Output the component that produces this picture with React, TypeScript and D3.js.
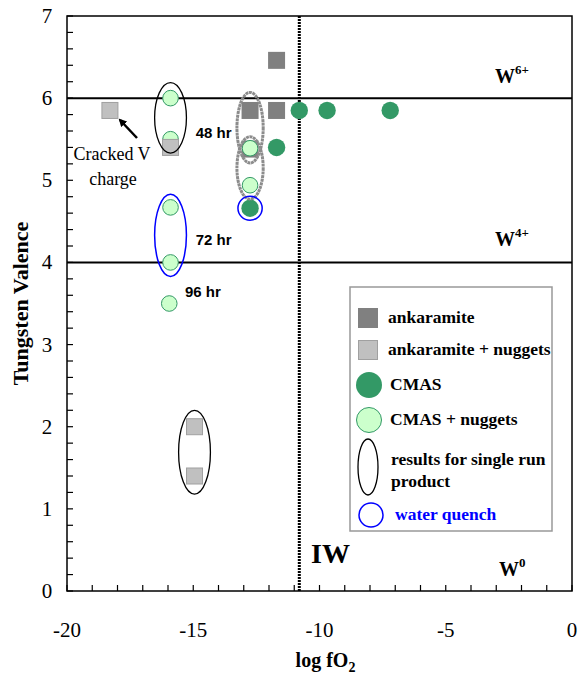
import React from 'react';
import * as d3 from 'd3';

// log fO2 vs tungsten valence
const ankaramite = [
  { x: -12.75, y: 5.85 },
  { x: -11.7, y: 5.85 },
  { x: -11.7, y: 6.46 },
  { x: -12.75, y: 5.38 },
];
const ankaramiteNuggets = [
  { x: -18.3, y: 5.85 },
  { x: -15.9, y: 5.4 },
  { x: -14.95, y: 2.0 },
  { x: -14.95, y: 1.4 },
];
const cmas = [
  { x: -10.8, y: 5.85 },
  { x: -9.7, y: 5.85 },
  { x: -7.2, y: 5.85 },
  { x: -11.7, y: 5.4 },
  { x: -12.75, y: 4.66 },
];
const cmasNuggets = [
  { x: -15.9, y: 6.0 },
  { x: -15.9, y: 5.5 },
  { x: -15.9, y: 4.67 },
  { x: -15.9, y: 4.0 },
  { x: -15.95, y: 3.5 },
  { x: -12.75, y: 5.39 },
  { x: -12.75, y: 4.94 },
];
// outlines: centre and half sizes in data units
const singleRun = [
  { cx: -15.9, cy: 5.76, rx: 0.63, ry: 0.43 },
  { cx: -14.95, cy: 1.69, rx: 0.63, ry: 0.51 },
];
const grayRuns = [
  { cx: -12.75, cy: 5.64, rx: 0.52, ry: 0.43 },
  { cx: -12.75, cy: 5.15, rx: 0.52, ry: 0.38 },
];
const quench = [
  { cx: -15.9, cy: 4.33, rx: 0.63, ry: 0.5 },
  { cx: -12.75, cy: 4.66, rx: 0.48, ry: 0.146 },
];
const durations = [
  { label: '48 hr', x: -14.9, y: 5.52 },
  { label: '72 hr', x: -14.9, y: 4.21 },
  { label: '96 hr', x: -15.33, y: 3.58 },
];
const levels = [6, 4];
const iw = -10.8;
const xTicks = [-20, -15, -10, -5, 0];
const yTicks = [0, 1, 2, 3, 4, 5, 6, 7];

const W = 578;
const H = 684;
const m = { left: 67, right: 6, top: 16, bottom: 93 };

const serif = '"Liberation Serif", "Times New Roman", serif';

export default function App() {
  const x = d3.scaleLinear().domain([-20, 0]).range([m.left, W - m.right]);
  const y = d3.scaleLinear().domain([0, 7]).range([H - m.bottom, m.top]);
  const x0 = x.range()[0], x1 = x.range()[1];
  const y0 = y.range()[0], y1 = y.range()[1];
  const minorX = d3.range(-20, 1, 1);
  const minorY = d3.range(0, 7.01, 0.2);
  const sq = 17;

  const legendItems = [
    { kind: 'dark', label: 'ankaramite', y: 318 },
    { kind: 'light', label: 'ankaramite + nuggets', y: 350 },
    { kind: 'cmas', label: 'CMAS', y: 385 },
    { kind: 'cmasn', label: 'CMAS + nuggets', y: 420 },
  ];

  return (
    <svg width={W} height={H} style={{ position: 'absolute', left: 0, top: 0, background: '#fff' }}>
      {/* frame */}
      <rect x={x0} y={y1} width={x1 - x0} height={y0 - y1} fill="none" stroke="#000" strokeWidth={1.5} />
      {minorX.map((t) => (
        <line key={'xt' + t} x1={x(t)} x2={x(t)} y1={y0} y2={y0 - 6} stroke="#000" strokeWidth={1.2} />
      ))}
      {minorY.map((t) => (
        <line key={'yt' + t} x1={x0} x2={x0 + 6} y1={y(t)} y2={y(t)} stroke="#000" strokeWidth={1.2} />
      ))}
      {xTicks.map((t) => (
        <text key={'xl' + t} x={x(t)} y={y0 + 46} textAnchor="middle" fontFamily={serif} fontSize={21}>
          {t}
        </text>
      ))}
      {yTicks.map((t) => (
        <text key={'yl' + t} x={x0 - 20} y={y(t) + 7} textAnchor="middle" fontFamily={serif} fontSize={21}>
          {t}
        </text>
      ))}
      <text x={(x0 + x1) / 2 + 6} y={667} textAnchor="middle" fontFamily={serif} fontSize={20} fontWeight="bold">
        log fO<tspan fontSize={14} dy={5}>2</tspan>
      </text>
      <text
        transform={`translate(28,${(y0 + y1) / 2}) rotate(-90)`}
        textAnchor="middle"
        fontFamily={serif}
        fontSize={22}
        fontWeight="bold"
      >
        Tungsten Valence
      </text>

      {/* valence levels and IW buffer */}
      {levels.map((l) => (
        <line key={'lv' + l} x1={x0} x2={x1} y1={y(l)} y2={y(l)} stroke="#000" strokeWidth={2} />
      ))}
      <line x1={x(iw)} x2={x(iw)} y1={y1} y2={y0} stroke="#000" strokeWidth={3} strokeDasharray="2,1" />

      {/* markers */}
      {ankaramite.map((d, i) => (
        <rect key={'a' + i} x={x(d.x) - sq / 2} y={y(d.y) - sq / 2} width={sq} height={sq} fill="#808080" />
      ))}
      {cmas.map((d, i) => (
        <circle key={'c' + i} cx={x(d.x)} cy={y(d.y)} r={8.7} fill="#339966" />
      ))}
      {cmasNuggets.map((d, i) => (
        <circle key={'cn' + i} cx={x(d.x)} cy={y(d.y)} r={7.8} fill="#ccffcc" stroke="#339966" strokeWidth={1} />
      ))}
      {ankaramiteNuggets.map((d, i) => (
        <rect
          key={'an' + i}
          x={x(d.x) - sq / 2 + 0.5}
          y={y(d.y) - sq / 2 + 0.5}
          width={sq - 1}
          height={sq - 1}
          fill="#c0c0c0"
          stroke="#a0a0a0"
          strokeWidth={1}
        />
      ))}

      {/* run outlines */}
      {grayRuns.map((e, i) => (
        <ellipse
          key={'g' + i}
          cx={x(e.cx)}
          cy={y(e.cy)}
          rx={x(e.cx + e.rx) - x(e.cx)}
          ry={y(e.cy - e.ry) - y(e.cy)}
          fill="none"
          stroke="#8c8c8c"
          strokeWidth={3}
          strokeDasharray="3,0.6"
        />
      ))}
      {singleRun.map((e, i) => (
        <ellipse
          key={'s' + i}
          cx={x(e.cx)}
          cy={y(e.cy)}
          rx={x(e.cx + e.rx) - x(e.cx)}
          ry={y(e.cy - e.ry) - y(e.cy)}
          fill="none"
          stroke="#000"
          strokeWidth={1.3}
        />
      ))}
      {quench.map((e, i) => (
        <ellipse
          key={'q' + i}
          cx={x(e.cx)}
          cy={y(e.cy)}
          rx={x(e.cx + e.rx) - x(e.cx)}
          ry={y(e.cy - e.ry) - y(e.cy)}
          fill="none"
          stroke="#0000ff"
          strokeWidth={1.5}
        />
      ))}

      {durations.map((d) => (
        <text key={d.label} x={x(d.x)} y={y(d.y)} fontFamily="Arial, 'Liberation Sans', sans-serif" fontSize={15} fontWeight="bold">
          {d.label}
        </text>
      ))}

      {/* cracked V annotation */}
      <defs>
        <marker id="ah" markerWidth={8} markerHeight={8} refX={6} refY={4} orient="auto" markerUnits="userSpaceOnUse">
          <path d="M0,0 L8,4 L0,8 Z" fill="#000" />
        </marker>
      </defs>
      <line x1={137} y1={138} x2={120} y2={120} stroke="#000" strokeWidth={2.5} markerEnd="url(#ah)" />
      <text x={112} y={160} textAnchor="middle" fontFamily={serif} fontSize={18}>
        Cracked V
      </text>
      <text x={113} y={185} textAnchor="middle" fontFamily={serif} fontSize={18}>
        charge
      </text>

      {/* valence state labels */}
      <text x={495} y={83} fontFamily={serif} fontSize={20} fontWeight="bold">
        W<tspan fontSize={13} dy={-9}>6+</tspan>
      </text>
      <text x={495} y={246} fontFamily={serif} fontSize={20} fontWeight="bold">
        W<tspan fontSize={13} dy={-9}>4+</tspan>
      </text>
      <text x={499} y={576} fontFamily={serif} fontSize={20} fontWeight="bold">
        W<tspan fontSize={13} dy={-9}>0</tspan>
      </text>
      <text x={311} y={563} fontFamily={serif} fontSize={28} fontWeight="bold">
        IW
      </text>

      {/* legend */}
      <rect x={350} y={287} width={202} height={244} fill="#fff" stroke="#999" strokeWidth={1.5} />
      {legendItems.map((it) => (
        <g key={it.label}>
          {it.kind === 'dark' && <rect x={358} y={it.y - 10} width={20} height={20} fill="#808080" />}
          {it.kind === 'light' && (
            <rect x={358.5} y={it.y - 9.5} width={19} height={19} fill="#c0c0c0" stroke="#a0a0a0" />
          )}
          {it.kind === 'cmas' && <circle cx={369} cy={it.y} r={13} fill="#339966" />}
          {it.kind === 'cmasn' && <circle cx={369} cy={it.y} r={12.5} fill="#ccffcc" stroke="#339966" />}
          <text x={it.kind === 'cmas' || it.kind === 'cmasn' ? 390 : 388} y={it.y + 5} fontFamily={serif} fontSize={17.5} fontWeight="bold">
            {it.label}
          </text>
        </g>
      ))}
      <ellipse cx={368} cy={467} rx={10} ry={28} fill="none" stroke="#000" strokeWidth={1.3} />
      <text x={391} y={465} fontFamily={serif} fontSize={17.5} fontWeight="bold">
        results for single run
      </text>
      <text x={391} y={487} fontFamily={serif} fontSize={17.5} fontWeight="bold">
        product
      </text>
      <circle cx={371} cy={515} r={12} fill="none" stroke="#0000ff" strokeWidth={1.5} />
      <text x={395} y={520} fontFamily={serif} fontSize={17.5} fontWeight="bold" fill="#0000ff">
        water quench
      </text>
    </svg>
  );
}
